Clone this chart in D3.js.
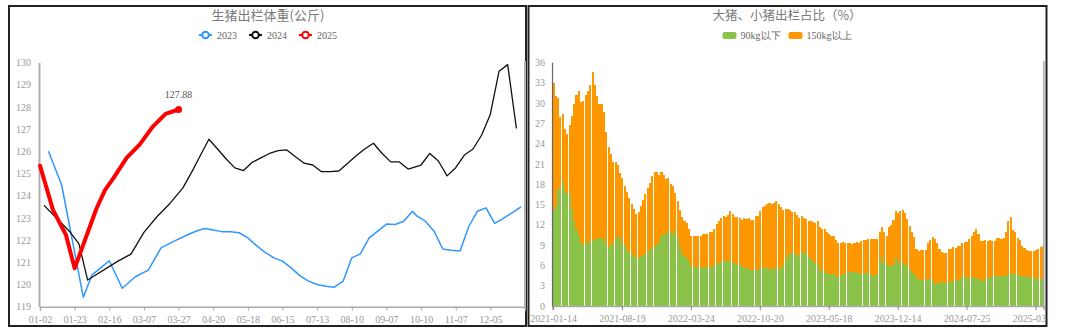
<!DOCTYPE html>
<html><head><meta charset="utf-8">
<script src="https://cdn.jsdelivr.net/npm/d3@7"></script>
<style>body{margin:0;background:#fff}svg{display:block}</style>
</head><body>
<svg id="c" width="1069" height="333"></svg>
<script>
// ================= LEFT CHART DATA: 生猪出栏体重(公斤) =================
const leftTitle = "生猪出栏体重(公斤)";
const seriesNames = ["2023", "2024", "2025"];
const dates2023 = ["01-05","01-12","01-26","02-02","02-09","02-16","02-23","03-02","03-09","03-16","03-23","03-30",
  "04-06","04-13","04-20","04-27","05-04","05-11","05-18","05-25","06-01","06-08","06-15","06-22","06-29",
  "07-06","07-13","07-20","07-27","08-03","08-10","08-17","08-24","08-31","09-07","09-14","09-21","09-28",
  "10-05","10-12","10-19","10-26","11-02","11-09","11-16","11-23","11-30","12-07","12-14","12-21","12-28"];
const weight2023 = [125.98,124.48,119.43,120.43,120.75,121.07,119.83,120.35,120.65,121.66,121.95,122.23,
  122.4,122.52,122.45,122.38,122.38,122.33,122.1,121.75,121.45,121.2,121.05,120.75,120.4,
  120.15,120.0,119.92,119.88,120.15,121.2,121.38,122.1,122.4,122.72,122.7,122.85,123.3,
  123.09,122.85,122.4,121.6,121.54,121.51,122.6,123.3,123.45,122.75,122.98,123.22,123.48];
const dates2024 = ["01-04","01-11","01-18","01-25","02-01","02-22","02-29","03-07","03-14","03-21","03-28",
  "04-04","04-11","04-18","04-25","05-02","05-09","05-16","05-23","05-30","06-06","06-13","06-20","06-27",
  "07-04","07-11","07-18","07-25","08-01","08-08","08-15","08-22","08-29","09-05","09-12","09-19","09-26",
  "10-10","10-17","10-24","10-31","11-07","11-14","11-21","11-28","12-05","12-12","12-19","12-26"];
const weight2024 = [123.55,122.95,122.35,121.83,120.2,121.05,121.37,122.35,123.05,123.65,124.35,
  125.05,125.8,126.54,126.1,125.65,125.25,125.13,125.5,125.7,125.9,126.03,126.06,125.75,
  125.46,125.38,125.08,125.08,125.11,125.45,125.8,126.1,126.36,125.9,125.52,125.52,125.2,
  125.38,125.9,125.56,124.89,125.26,125.83,126.1,126.73,127.67,129.6,129.9,127.05];
const dates2025 = ["01-02","01-09","01-16","01-23","02-06","02-13","02-20","02-27","03-06","03-13","03-20","03-27"];
const weight2025 = [125.35,123.36,122.23,120.73,123.4,124.25,124.8,125.7,126.3,127.1,127.68,127.88];
const extraCategories = ["12-31"];
const weightTicks = [119,120,121,122,123,124,125,126,127,128,129,130];
const leftLabelEvery = 8;
const lastLabel = "127.88";

// ================= RIGHT CHART DATA: 大猪、小猪出栏占比（%） =================
const rightTitle = "大猪、小猪出栏占比（%）";
const stackNames = ["90kg以下", "150kg以上"];
const firstWeek = "2021-01-14";
const skippedWeeks = ["2021-02-11","2022-02-03","2024-02-08","2024-02-15","2025-01-30","2025-02-06"];
const under90 = [
  14.2,14.7,17.3,17.4,18.3,17.0,16.7,16.5,14.4,12.5,11.2,10.3,9.3,9.0,9.3,9.3,9.6,9.7,9.9,9.9,
  10.0,9.9,10.0,9.1,8.5,9.3,9.0,9.9,10.2,10.2,9.3,9.0,8.3,8.0,7.7,7.4,7.1,7.1,7.4,7.4,
  7.7,8.0,8.3,8.5,8.8,9.1,9.3,10.4,10.7,10.7,
  11.1,10.9,10.7,11.1,10.0,8.7,7.8,7.4,7.1,6.5,5.8,5.8,5.8,5.8,5.8,5.6,5.8,5.8,5.6,5.9,
  5.9,6.3,6.3,6.5,6.6,6.6,6.6,6.6,6.5,6.2,6.1,6.2,5.9,5.6,5.6,5.5,5.3,5.3,5.3,5.3,
  5.6,5.8,5.6,5.6,5.5,5.5,5.5,5.6,5.5,5.6,6.1,6.8,7.5,7.7,7.8,
  7.8,7.5,7.4,8.1,7.8,7.7,7.2,6.9,6.6,6.3,6.2,5.3,5.1,5.1,4.8,4.8,4.8,4.7,4.5,4.3,
  4.4,4.7,4.8,5.0,5.0,5.0,5.0,5.0,4.8,4.8,4.8,5.0,4.8,4.7,4.5,4.5,4.8,6.3,7.2,6.3,
  6.2,5.9,5.9,6.1,7.2,6.6,6.3,6.3,6.1,5.9,5.5,5.0,4.8,4.3,
  3.8,3.8,3.8,3.8,4.0,4.0,3.7,3.2,3.4,3.4,3.5,3.4,3.4,3.5,3.5,3.7,3.8,3.8,3.8,4.4,
  4.4,4.1,4.1,4.1,4.3,4.1,4.0,3.7,3.7,4.0,4.1,4.1,4.4,4.4,4.5,4.5,4.4,4.4,4.5,4.7,
  4.7,4.7,4.7,4.7,4.5,4.4,4.5,4.3,4.3,4.3,4.1,4.0,4.0,4.0,4.0];
const over150 = [
  18.7,16.3,13.4,10.5,10.0,9.1,8.7,10.2,13.6,17.4,20.0,21.4,20.8,21.3,21.9,22.4,23.1,24.8,22.7,21.1,
  19.9,19.9,18.6,16.6,15.0,13.1,12.2,11.3,10.6,9.4,9.6,8.7,8.5,7.9,7.3,7.0,6.5,6.8,7.3,8.2,
  8.8,9.4,9.8,10.7,11.0,10.7,10.0,9.4,8.6,8.0,
  7.8,7.1,7.0,5.6,5.5,5.5,5.3,5.1,5.1,4.9,4.6,4.6,4.6,4.6,4.6,5.0,4.9,4.9,5.3,5.1,
  5.5,5.8,6.2,6.5,6.7,6.5,6.8,7.4,7.1,6.9,7.0,6.8,6.8,7.4,7.2,7.5,7.4,7.4,8.0,8.0,
  8.4,8.8,9.2,9.4,9.7,9.5,9.7,9.9,9.5,9.0,8.1,7.5,6.9,6.5,6.1,
  6.1,5.9,5.6,5.2,5.2,5.1,5.3,5.6,5.8,5.9,6.3,6.3,6.3,6.3,6.1,5.9,5.6,5.6,5.2,5.0,
  4.9,4.7,4.5,4.3,4.3,4.1,4.3,4.4,4.5,4.8,4.9,4.7,5.1,5.2,5.4,5.4,5.1,4.6,4.4,4.6,
  4.2,5.7,6.0,6.6,6.8,7.1,7.7,7.9,7.6,6.9,6.3,5.9,5.4,4.1,
  4.3,4.4,4.4,4.4,5.3,5.7,6.5,6.7,5.9,5.0,4.5,4.5,4.5,4.9,4.9,5.0,4.8,5.1,5.1,4.9,
  5.0,5.3,5.8,6.3,6.7,7.3,6.6,5.9,5.9,5.7,5.5,5.6,5.2,5.2,5.5,5.5,5.5,5.6,6.5,7.8,
  8.4,6.5,6.2,5.3,5.2,4.5,4.1,3.9,3.8,3.8,4.0,4.2,4.4,4.7,4.9];
const shareTicks = [0,3,6,9,12,15,18,21,24,27,30,33,36];
const rightLabelEvery = 30;

// ================= COLOURS / STYLE =================
const lineColors = {"2023":"#2f97ff","2024":"#111111","2025":"#ff0000"};
const lineWidths = {"2023":1.5,"2024":1.3,"2025":4};
const stackColors = {"90kg以下":"#8bc34a","150kg以上":"#ff9800"};
const numFont = "'Liberation Serif', 'DejaVu Serif', serif";
const cjkFont = "'Noto Sans CJK SC', sans-serif";

const svg = d3.select("#c");

// panel frames
svg.append("rect").attr("x",9).attr("y",6).attr("width",517).attr("height",320)
  .attr("fill","none").attr("stroke","#222").attr("stroke-width",2);
svg.append("rect").attr("x",528.5).attr("y",6).attr("width",518).attr("height",320)
  .attr("fill","none").attr("stroke","#222").attr("stroke-width",2);

// ================= LEFT CHART =================
const leftCats = Array.from(new Set([...dates2023, ...dates2024, ...dates2025])).sort().concat(extraCategories);
const xL = d3.scalePoint().domain(leftCats).range([40, 525]);
const yL = d3.scaleLinear().domain([119, 130]).range([306.7, 62.4]);
svg.append("clipPath").attr("id","lclip").append("rect").attr("x",10).attr("y",0).attr("width",516).attr("height",333);
const gL = svg.append("g").attr("clip-path","url(#lclip)");

gL.append("text").attr("x", 268).attr("y", 14.5).attr("text-anchor","middle")
  .attr("dominant-baseline","central").style("font", "13px " + cjkFont).attr("fill","#7a7a7a")
  .text(leftTitle);

// legend
(function(){
  const lg = gL.append("g");
  let x = 0;
  seriesNames.forEach(n => {
    const it = lg.append("g").attr("transform", `translate(${x},0)`);
    it.append("line").attr("x1",0).attr("x2",13).attr("y1",0).attr("y2",0)
      .attr("stroke", lineColors[n]).attr("stroke-width",2);
    it.append("circle").attr("cx",6.5).attr("cy",0).attr("r",3.3).attr("fill","#fff")
      .attr("stroke", lineColors[n]).attr("stroke-width",2);
    const t = it.append("text").attr("x",18).attr("y",0).attr("dominant-baseline","central")
      .style("font","10px " + numFont).attr("fill","#666").text(n);
    const w = 18 + t.node().getComputedTextLength();
    x += w + 12;
  });
  const total = x - 12;
  lg.attr("transform", `translate(${268 - total/2},35)`);
})();

// axes (labels only on data dates, every 8th category)
const xAxisL = d3.axisBottom(xL)
  .tickValues(leftCats.filter((d,i) => i % leftLabelEvery === 0 && !extraCategories.includes(d)))
  .tickSize(4).tickPadding(5);
const gxL = gL.append("g").attr("transform","translate(0,306.7)").call(xAxisL);
gxL.select(".domain").attr("stroke","#aaa").attr("stroke-width",1.5);
gxL.selectAll(".tick line").attr("stroke","#aaa");
gxL.selectAll(".tick text").attr("fill","#999").style("font","10px " + numFont);

const yAxisL = d3.axisLeft(yL).tickValues(weightTicks).tickSize(0).tickPadding(8).tickFormat(d3.format("d"));
const gyL = gL.append("g").attr("transform","translate(39,0)").call(yAxisL);
gyL.select(".domain").attr("stroke","#b0b0b0").attr("stroke-width",2);
gyL.selectAll(".tick text").attr("fill","#999").style("font","10px " + numFont);

gL.append("line").attr("x1",525).attr("x2",525).attr("y1",61).attr("y2",309)
  .attr("stroke","#b0b0b0").attr("stroke-width",2);

// lines
const seriesData = [
  {name:"2023", pts: dates2023.map((d,i)=>({d, v: weight2023[i]}))},
  {name:"2024", pts: dates2024.map((d,i)=>({d, v: weight2024[i]}))},
  {name:"2025", pts: dates2025.map((d,i)=>({d, v: weight2025[i]}))}
];
const lineGen = d3.line().x(p => xL(p.d)).y(p => yL(p.v));
seriesData.forEach(s => {
  gL.append("path").attr("d", lineGen(s.pts)).attr("fill","none")
    .attr("stroke", lineColors[s.name]).attr("stroke-width", lineWidths[s.name])
    .attr("stroke-linejoin","round").attr("stroke-linecap","round");
});
const last25 = seriesData[2].pts[seriesData[2].pts.length-1];
gL.append("circle").attr("cx", xL(last25.d)).attr("cy", yL(last25.v)).attr("r",3.5).attr("fill", lineColors["2025"]);
gL.append("text").attr("x", xL(last25.d)).attr("y", yL(last25.v) - 11).attr("text-anchor","middle")
  .style("font","10px " + numFont).attr("fill","#555").text(lastLabel);

// ================= RIGHT CHART =================
const weekCats = [];
{
  let t = new Date(firstWeek + "T00:00:00Z").getTime();
  while (weekCats.length < under90.length) {
    const s = new Date(t).toISOString().slice(0,10);
    if (!skippedWeeks.includes(s)) weekCats.push(s);
    t += 7 * 86400000;
  }
}
const rows = weekCats.map((d,i) => ({date:d, "90kg以下": under90[i], "150kg以上": over150[i]}));
const stacked = d3.stack().keys(stackNames)(rows);

const xR = d3.scaleBand().domain(weekCats).range([552.4, 1044]).paddingInner(0.1).paddingOuter(0.05);
const yR = d3.scaleLinear().domain([0, 36]).range([306, 62.3]);

svg.append("clipPath").attr("id","rclip").append("rect").attr("x",529).attr("y",0).attr("width",517).attr("height",333);
const gR = svg.append("g").attr("clip-path","url(#rclip)");

gR.append("text").attr("x", 787).attr("y", 14.5).attr("text-anchor","middle")
  .attr("dominant-baseline","central").style("font","12.5px " + cjkFont).attr("fill","#7a7a7a")
  .text(rightTitle);

// legend
(function(){
  const lg = gR.append("g");
  let x = 0;
  stackNames.forEach(n => {
    const it = lg.append("g").attr("transform", `translate(${x},0)`);
    it.append("rect").attr("x",0).attr("y",-3.5).attr("width",14).attr("height",7).attr("rx",2)
      .attr("fill", stackColors[n]);
    const t = it.append("text").attr("x",18).attr("y",0).attr("dominant-baseline","central")
      .style("font","10px " + numFont).attr("fill","#666").text(n);
    x += 18 + t.node().getComputedTextLength() + 8;
  });
  const total = x - 8;
  lg.attr("transform", `translate(${787 - total/2},35.5)`);
})();

// bars
stacked.forEach(layer => {
  gR.append("g").attr("fill", stackColors[layer.key]).attr("shape-rendering","crispEdges")
    .selectAll("rect").data(layer).join("rect")
    .attr("x", d => xR(d.data.date))
    .attr("width", xR.bandwidth())
    .attr("y", d => yR(d[1]))
    .attr("height", d => yR(d[0]) - yR(d[1]));
});

const xAxisR = d3.axisBottom(xR)
  .tickValues(weekCats.filter((d,i) => i % rightLabelEvery === 0))
  .tickSize(4).tickPadding(5);
const gxR = gR.append("g").attr("transform","translate(0,306)").call(xAxisR);
gxR.select(".domain").attr("stroke","#aaa").attr("stroke-width",1.5);
gxR.selectAll(".tick line").attr("stroke","#888");
gxR.selectAll(".tick text").attr("fill","#999").style("font","10px " + numFont);

const yAxisR = d3.axisLeft(yR).tickValues(shareTicks).tickSize(0).tickPadding(7);
const gyR = gR.append("g").attr("transform","translate(552,0)").call(yAxisR);
gyR.select(".domain").attr("stroke","#666").attr("stroke-width",1.2);
gyR.selectAll(".tick text").attr("fill","#999").style("font","10px " + numFont);

gR.append("line").attr("x1",1043.8).attr("x2",1043.8).attr("y1",61).attr("y2",309)
  .attr("stroke","#aaa").attr("stroke-width",1.5);
</script>
</body></html>
